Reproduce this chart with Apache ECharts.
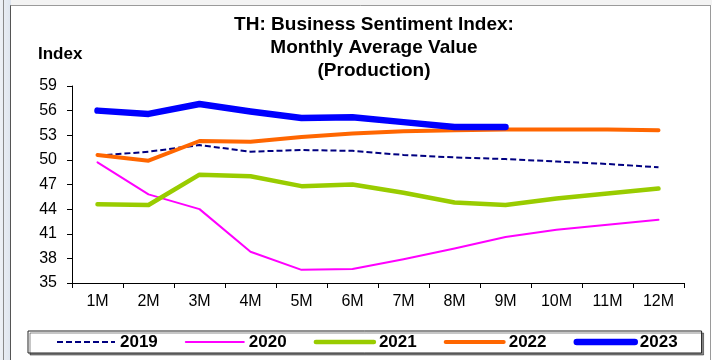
<!DOCTYPE html>
<html>
<head>
<meta charset="utf-8">
<script src="https://cdn.jsdelivr.net/npm/echarts@6/dist/echarts.min.js"></script>
<style>
  html, body { margin: 0; padding: 0; background: #ffffff; }
  #chart { width: 712px; height: 360px; }
</style>
</head>
<body>
<div id="chart"></div>
<script>
// Monthly average of the production sentiment index, by year
const months = ['1M', '2M', '3M', '4M', '5M', '6M', '7M', '8M', '9M', '10M', '11M', '12M'];
const y2019 = [50.5, 51.0, 51.8, 51.0, 51.2, 51.1, 50.6, 50.3, 50.1, 49.8, 49.5, 49.1];
const y2020 = [49.7, 45.8, 44.0, 38.8, 36.6, 36.7, 37.9, 39.2, 40.6, 41.5, 42.1, 42.7];
const y2021 = [44.6, 44.5, 48.2, 48.0, 46.8, 47.0, 46.0, 44.8, 44.5, 45.3, 45.9, 46.5];
const y2022 = [50.6, 49.9, 52.3, 52.2, 52.8, 53.2, 53.5, 53.6, 53.7, 53.7, 53.7, 53.6];
const y2023 = [56.0, 55.6, 56.8, 55.9, 55.1, 55.2, 54.6, 54.0, 54.0];
const yTicks = { min: 35, max: 59, step: 3 };

const FONT = '"Liberation Sans", Arial, sans-serif';

// per-year line look: colour, width, dashed
const looks = {
  '2019': ['#000080', 2, true],
  '2020': ['#ff00ff', 2, false],
  '2021': ['#99cc00', 4.5, false],
  '2022': ['#ff6600', 4, false],
  '2023': ['#0000ff', 6.5, false]
};

function lineStyleOf(name) {
  const [color, width, dashed] = looks[name];
  return {
    color: color,
    width: width,
    type: dashed ? [6, 3] : 'solid',
    cap: dashed ? 'butt' : 'round',
    join: 'round'
  };
}

function lineSeries(name, data) {
  return {
    name: name,
    type: 'line',
    data: data,
    symbol: 'none',
    smooth: false,
    silent: true,
    lineStyle: lineStyleOf(name),
    itemStyle: { color: looks[name][0] }
  };
}

const chart = echarts.init(document.getElementById('chart'), null, { renderer: 'canvas' });

chart.setOption({
  animation: false,
  backgroundColor: '#ffffff',
  graphic: [
    // panel edge on the left and frame around the chart
    { type: 'rect', shape: { x: 0, y: 0, width: 11, height: 360 },
      style: { fill: new echarts.graphic.LinearGradient(0, 0, 1, 0, [
        { offset: 0, color: '#eef1f6' }, { offset: 1, color: '#dde4ee' }]) }, z: -10 },
    { type: 'line', shape: { x1: 3.5, y1: 0, x2: 3.5, y2: 360 },
      style: { stroke: '#8a8a8a', lineWidth: 1 }, z: -9 },
    { type: 'rect', shape: { x: 11, y: 0, width: 701, height: 5 },
      style: { fill: '#f3f3f3' }, z: -10 },
    { type: 'line', shape: { x1: 10.5, y1: 5, x2: 10.5, y2: 360 },
      style: { stroke: '#555555', lineWidth: 1 }, z: -9 },
    { type: 'line', shape: { x1: 10.5, y1: 5.5, x2: 711, y2: 5.5 },
      style: { stroke: '#9a9a9a', lineWidth: 1 }, z: -9 },
    { type: 'line', shape: { x1: 710.5, y1: 5, x2: 710.5, y2: 360 },
      style: { stroke: '#9a9a9a', lineWidth: 1 }, z: -9 },
    // three-line chart heading
    { type: 'text', x: 374, y: 13.5, z: 5,
      style: {
        text: 'TH: Business Sentiment Index:\nMonthly Average Value\n(Production)',
        align: 'center',
        verticalAlign: 'top',
        fontFamily: FONT,
        fontSize: 19,
        fontWeight: 'bold',
        lineHeight: 23,
        fill: '#000000'
      } }
  ],
  title: {
    text: 'Index',
    left: 38,
    top: 46,
    padding: 0,
    textStyle: { fontFamily: FONT, fontSize: 17, fontWeight: 'bold', color: '#000000' }
  },
  legend: {
    left: 28,
    top: 331,
    width: 660,
    orient: 'horizontal',
    padding: [2, 24, 2, 28],
    itemGap: 27,
    itemWidth: 58,
    itemHeight: 14,
    backgroundColor: '#ffffff',
    borderColor: '#222222',
    borderWidth: 1,
    borderRadius: 0,
    shadowColor: 'rgba(0,0,0,0.45)',
    shadowBlur: 0,
    shadowOffsetX: 2,
    shadowOffsetY: 2,
    selectedMode: false,
    itemStyle: { color: 'rgba(0,0,0,0)', borderWidth: 0 },
    textStyle: { fontFamily: FONT, fontSize: 17, fontWeight: 'bold', color: '#000000', lineHeight: 18 },
    data: Object.keys(looks).map(function (name) {
      return { name: name, lineStyle: lineStyleOf(name) };
    })
  },
  grid: { left: 72, right: 28, top: 86, bottom: 77, containLabel: false },
  xAxis: {
    type: 'category',
    data: months,
    boundaryGap: true,
    axisLine: { lineStyle: { color: '#000000', width: 1 } },
    axisTick: { show: true, length: 5, inside: false, alignWithLabel: false, lineStyle: { color: '#000000' } },
    axisLabel: { fontFamily: FONT, fontSize: 16, color: '#000000', margin: 11, interval: 0 },
    splitLine: { show: false }
  },
  yAxis: {
    type: 'value',
    min: yTicks.min,
    max: yTicks.max,
    interval: yTicks.step,
    axisLine: { show: true, lineStyle: { color: '#000000', width: 1 } },
    axisTick: { show: true, length: 5, inside: false, lineStyle: { color: '#000000' } },
    axisLabel: { fontFamily: FONT, fontSize: 16, color: '#000000', margin: 15 },
    splitLine: { show: false }
  },
  series: [
    lineSeries('2019', y2019),
    lineSeries('2020', y2020),
    lineSeries('2021', y2021),
    lineSeries('2022', y2022),
    lineSeries('2023', y2023)
  ]
});
</script>
</body>
</html>
